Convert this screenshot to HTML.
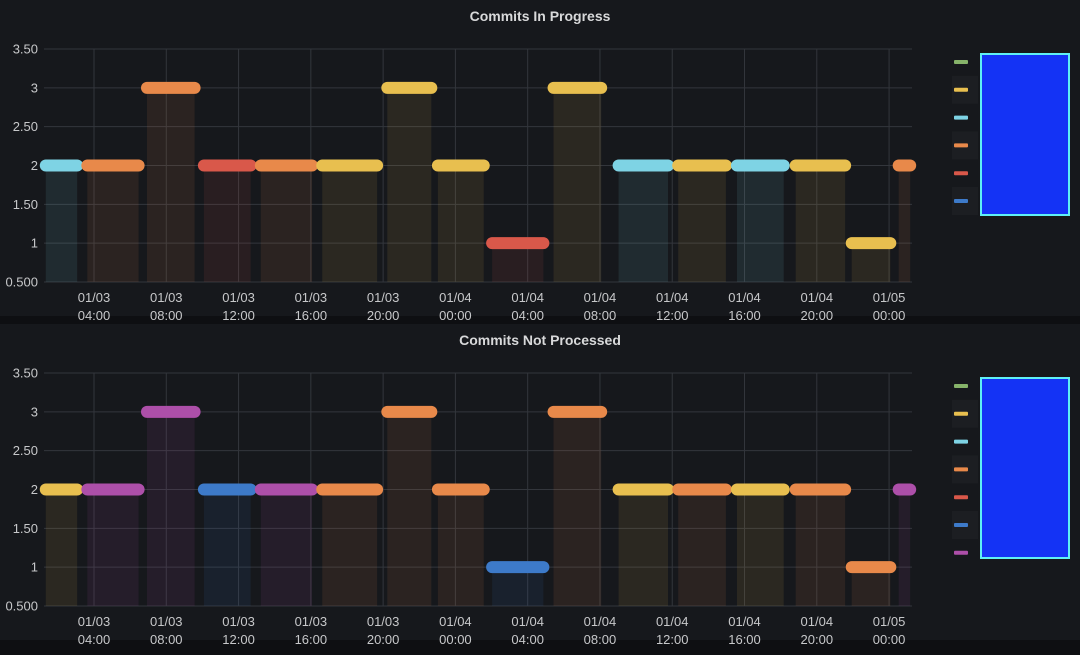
<!DOCTYPE html>
<html><head><meta charset="utf-8">
<style>
html,body{margin:0;padding:0;background:#0e0f12;}
body{width:1080px;height:655px;overflow:hidden;font-family:"Liberation Sans",sans-serif;}
svg{display:block}
</style></head>
<body>
<svg id="chart" width="1080" height="655" xmlns="http://www.w3.org/2000/svg"></svg>
<script>
// Shared time segments (hours since 01/03 00:00)
const segStart = [1.0, 3.3, 6.6, 9.75, 12.9, 16.3, 19.9, 22.7, 25.7, 29.1, 32.7, 36.0, 39.25, 42.5, 45.6, 48.2];
const segEnd   = [3.4, 6.8, 9.9, 13.0, 16.4, 20.0, 23.0, 25.9, 29.2, 32.4, 36.1, 39.3, 42.5, 45.9, 48.4, 49.5];
const values1 = [2, 2, 3, 2, 2, 2, 3, 2, 1, 3, 2, 2, 2, 2, 1, 2];
const colors1 = ["cyan","orange","orange","red","orange","yellow","yellow","yellow","red","yellow","cyan","yellow","cyan","yellow","yellow","orange"];
const values2 = [2, 2, 3, 2, 2, 2, 3, 2, 1, 3, 2, 2, 2, 2, 1, 2];
const colors2 = ["yellow","purple","purple","blue","purple","orange","orange","orange","blue","orange","yellow","orange","yellow","orange","orange","purple"];
const yTicks = [0.5, 1, 1.5, 2, 2.5, 3, 3.5];
const yTickLabels = ["0.500","1","1.50","2","2.50","3","3.50"];
const xTickHours = [4, 8, 12, 16, 20, 24, 28, 32, 36, 40, 44, 48];
const xTickDates = ["01/03","01/03","01/03","01/03","01/03","01/04","01/04","01/04","01/04","01/04","01/04","01/05"];
const xTickTimes = ["04:00","08:00","12:00","16:00","20:00","00:00","04:00","08:00","12:00","16:00","20:00","00:00"];
const legendColors = ["green","yellow","cyan","orange","red","blue"];
const legendColors2 = ["green","yellow","cyan","orange","red","blue","purple"];

const PAL = {cyan:"#7ed3e4",orange:"#e8894a",red:"#d9584a",yellow:"#e8bf4f",blue:"#3d7ac9",purple:"#ad4fa9",green:"#86b36a"};
const NS = "http://www.w3.org/2000/svg";
const svg = document.getElementById("chart");
function mk(tag, attrs, parent){const e=document.createElementNS(NS,tag);for(const k in attrs)e.setAttribute(k,attrs[k]);(parent||svg).appendChild(e);return e;}

const X0 = 44, X1 = 912;
function xScale(h){ return 94 + (h - 4) * 18.07; }

function panel(top, title, values, colors, legCols, name){
  const g = mk("g", {});
  
  
  const bgr = mk("rect", {x:0, y:top, width:1080, height:316, fill:"#16181c"}, g);
  
  
  const t = mk("text", {x:540, y:top+21, "text-anchor":"middle", fill:"#d8d9da", "font-size":"14", "font-weight":"bold"}, g);
  t.textContent = title;
  
  
  const yTop = top + 49, yBot = top + 282;
  function yScale(v){ return yBot - (v - 0.5) / 3 * (yBot - yTop); }
  yTicks.forEach((v,i)=>{
    const y = yScale(v);
    const l = mk("line", {x1:X0, x2:X1, y1:y, y2:y, stroke:"#33363c", "stroke-width":1}, g);
    
    
    const tx = mk("text", {x:38, y:y+4.5, "text-anchor":"end", fill:"#c7c8ca", "font-size":"13"}, g);
    tx.textContent = yTickLabels[i];
    
    
  });
  xTickHours.forEach((h,i)=>{
    const x = xScale(h);
    const l = mk("line", {x1:x, x2:x, y1:yTop, y2:yBot, stroke:"#33363c", "stroke-width":1}, g);
    
    
    const a = mk("text", {x:x, y:top+302, "text-anchor":"middle", fill:"#c7c8ca", "font-size":"13"}, g);
    a.textContent = xTickDates[i];
    
    
    const b = mk("text", {x:x, y:top+320, "text-anchor":"middle", fill:"#c7c8ca", "font-size":"13"}, g);
    b.textContent = xTickTimes[i];
    
    
  });
  values.forEach((v,i)=>{
    const xa = xScale(segStart[i]), xb = Math.min(xScale(segEnd[i]), 917);
    const c = PAL[colors[i]];
    const yv = yScale(v);
    const bar = mk("rect", {x:xa+6, y:yv, width:Math.max(2, xb-xa-12), height:yBot-yv, fill:c, "fill-opacity":0.1}, g);
    
    
    const pill = mk("rect", {x:xa, y:yv-6, width:xb-xa, height:12, rx:6, ry:6, fill:c}, g);
    
    
  });
  legCols.forEach((c,i)=>{
    const y = top + 62 + i*27.8;
    if(i%2===1){ const s = mk("rect",{x:952,y:y-14,width:26,height:28,fill:"#1c1e22"},g);
        }
    const sw = mk("rect", {x:954, y:y-2, width:14, height:4, rx:1, fill:PAL[c]}, g);
    
    
  });
  const lb = mk("rect", {x:981, y:top+54, width:88, height:legCols.length===7?180:161, fill:"#1433f5", stroke:"#5ff0f5", "stroke-width":2}, g);
  
  
}
panel(0, "Commits In Progress", values1, colors1, legendColors, "commits-in-progress-panel");
panel(324, "Commits Not Processed", values2, colors2, legendColors2, "commits-not-processed-panel");
</script>
</body></html>
